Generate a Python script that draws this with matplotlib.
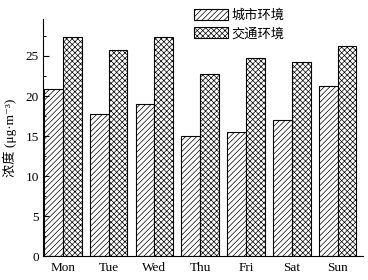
import matplotlib
matplotlib.use("Agg")
import matplotlib.pyplot as plt
import numpy as np
from matplotlib.ticker import MultipleLocator

days = ["Mon", "Tue", "Wed", "Thu", "Fri", "Sat", "Sun"]
city = [20.9, 17.8, 19.0, 15.0, 15.5, 17.0, 21.3]
traffic = [27.4, 25.8, 27.3, 22.7, 24.8, 24.3, 26.3]
series_names = ["城市环境", "交通环境"]

plt.rcParams['font.family'] = ['Liberation Serif', 'Noto Sans CJK SC', 'DejaVu Sans']
plt.rcParams['hatch.linewidth'] = 0.5

fig = plt.figure(figsize=(3.68, 2.8), dpi=100)
ax = fig.add_axes([0.117, 0.084, 0.869, 0.848])

x = np.arange(len(days))
w = 0.41
ax.bar(x - w/2, city, w, facecolor='white', edgecolor='black', linewidth=0.8,
       hatch='//////', label=series_names[0])
ax.bar(x + w/2, traffic, w, facecolor='white', edgecolor='black', linewidth=0.8,
       hatch='xxxxxx', label=series_names[1])

ax.set_xlim(-0.43, 6.55)
ax.set_ylim(0, 29.6)
ax.set_xticks(x)
ax.set_xticklabels(days, fontsize=9.5)
ax.yaxis.set_major_locator(MultipleLocator(5))
ax.yaxis.set_minor_locator(MultipleLocator(2.5))
ax.tick_params(axis='y', direction='in', length=4, width=0.8, labelsize=9.5, pad=3)
ax.tick_params(axis='y', which='minor', direction='in', length=2, width=0.8)
ax.tick_params(axis='x', length=0, pad=4)
for s in ['top', 'right']:
    ax.spines[s].set_visible(False)
for s in ['left', 'bottom']:
    ax.spines[s].set_linewidth(0.8)

ax.set_ylabel('浓度 (μg·m⁻³)', fontsize=9.5, labelpad=6)

leg = ax.legend(loc='upper left', bbox_to_anchor=(0.455, 1.065), frameon=False,
                fontsize=9.5, handlelength=2.6, handleheight=0.9,
                handletextpad=0.25, labelspacing=0.4, borderaxespad=0)

fig.savefig('out.png', dpi=100)
